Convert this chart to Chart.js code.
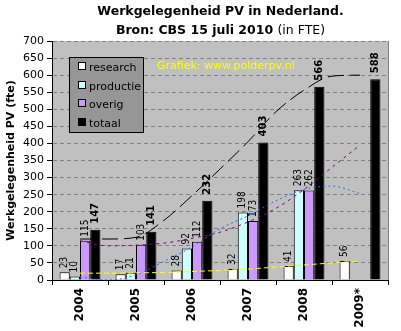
<!DOCTYPE html>
<html lang="nl">
  <head>
    <meta charset="UTF-8" />
    <script src="https://cdn.jsdelivr.net/npm/chart.js@4.4.0/dist/chart.umd.min.js"></script>
    <title>Werkgelegenheid PV in Nederland</title>
    <style>
      body {
        margin: 0;
        background: #fff;
      }
      .wrap {
        position: relative;
        width: 401px;
        height: 331px;
        font-family: "DejaVu Sans", Verdana, sans-serif;
      }
      #trendChart {
        position: absolute;
        left: 0;
        top: 0;
      }
      .title {
        position: absolute;
        left: 20px;
        width: 401px;
        text-align: center;
        font-size: 12.5px;
        font-weight: bold;
        color: #000;
        line-height: 14px;
      }
      .title span {
        font-weight: normal;
      }
      .legend {
        position: absolute;
        left: 69px;
        top: 57px;
        width: 73px;
        height: 74px;
        background: #969696;
        border: 1px solid #000;
        font-size: 11px;
      }
      .legend div {
        position: absolute;
        left: 8px;
        height: 12px;
        line-height: 12px;
      }
      .legend i {
        display: inline-block;
        width: 6px;
        height: 6px;
        border: 1px solid #000;
        margin-right: 3px;
        vertical-align: 1px;
      }
      .mark {
        position: absolute;
        left: 157px;
        top: 59px;
        color: #ffff00;
        font-size: 11px;
      }
    </style>
  </head>
  <body>
    <div class="wrap">
      <canvas id="myChart" width="401" height="331"></canvas>
      <canvas id="trendChart" width="401" height="331"></canvas>
      <div class="title" style="top: 4px">Werkgelegenheid PV in Nederland.</div>
      <div class="title" style="top: 23px">Bron: CBS 15 juli 2010 <span>(in FTE)</span></div>
      <div class="mark">Grafiek: www.polderpv.nl</div>
      <div class="legend" id="legend"></div>
    </div>
    <script>
      const years = ["2004", "2005", "2006", "2007", "2008", "2009*"];
      const research = [23, 17, 28, 32, 41, 56];
      const productie = [10, 21, 92, 198, 263, null];
      const overig = [115, 103, 112, 173, 262, null];
      const totaal = [147, 141, 232, 403, 566, 588];

      // trendlines, at half-year steps
      const trendYears = [2004, 2004.5, 2005, 2005.5, 2006, 2006.5, 2007, 2007.5, 2008, 2008.5, 2009];
      const researchTrend = [20, 20, 21, 22, 25, 28, 32, 38, 44, 50, 56];
      const productieTrend = [8, 0, 15, 55, 97, 150, 188, 232, 265, 275, 253];
      const overigTrend = [115, 100, 102, 108, 122, 140, 170, 210, 265, 330, 395];
      const totaalTrend = [120, 120, 125, 175, 247, 325, 405, 493, 556, 597, 600];

      const yTicks = { min: 0, max: 700, step: 50 };

      const seriesNames = ["research", "productie", "overig", "totaal"];
      const seriesColors = ["#ffffff", "#ccffff", "#cc99ff", "#000000"];

      const legend = document.getElementById("legend");
      seriesNames.forEach(function (name, i) {
        const row = document.createElement("div");
        row.style.top = 4 + i * 18.5 + "px";
        row.innerHTML = '<i style="background:' + seriesColors[i] + '"></i>' + name;
        legend.appendChild(row);
      });

      function bar(label, data, color) {
        return {
          label: label,
          data: data,
          backgroundColor: color,
          borderColor: "#000",
          borderWidth: 1,
          categoryPercentage: 0.73,
          barPercentage: 1,
        };
      }

      function trend(data, color, dash) {
        return {
          data: data.map(function (v, i) {
            return { x: trendYears[i], y: v };
          }),
          borderColor: color,
          borderWidth: 1,
          borderDash: dash,
          pointRadius: 0,
          cubicInterpolationMode: "monotone",
          fill: false,
        };
      }

      const plotBack = {
        id: "plotBack",
        beforeDraw(chart) {
          const a = chart.chartArea;
          const ctx = chart.ctx;
          ctx.save();
          ctx.fillStyle = "#c0c0c0";
          ctx.fillRect(a.left, a.top, a.right - a.left, a.bottom - a.top);
          ctx.strokeStyle = "#808080";
          ctx.lineWidth = 1;
          ctx.beginPath();
          ctx.moveTo(a.right + 0.5, a.top);
          ctx.lineTo(a.right + 0.5, a.bottom);
          ctx.stroke();
          ctx.restore();
        },
      };

      // value labels above the bars, rotated like the x labels
      const barLabels = {
        id: "barLabels",
        afterDatasetsDraw(chart) {
          const ctx = chart.ctx;
          ctx.save();
          ctx.fillStyle = "#000";
          chart.data.datasets.forEach(function (ds, d) {
            const meta = chart.getDatasetMeta(d);
            const big = ds.label === "totaal";
            ctx.font = big
              ? "bold 10px 'DejaVu Sans'"
              : "10px 'Liberation Sans Narrow', 'DejaVu Sans Condensed', sans-serif";
            meta.data.forEach(function (el, i) {
              const v = ds.data[i];
              if (v === null) return;
              ctx.save();
              ctx.translate(el.x, el.y - (big ? 6 : 4));
              ctx.rotate(-Math.PI / 2);
              ctx.textAlign = "left";
              ctx.textBaseline = "middle";
              ctx.fillText(String(v), 0, 0);
              ctx.restore();
            });
          });
          ctx.restore();
        },
      };

      const padding = { top: 41, right: 13, left: 0, bottom: 0 };

      new Chart(document.getElementById("myChart").getContext("2d"), {
        type: "bar",
        data: {
          labels: years,
          datasets: [
            bar("research", research, seriesColors[0]),
            bar("productie", productie, seriesColors[1]),
            bar("overig", overig, seriesColors[2]),
            bar("totaal", totaal, seriesColors[3]),
          ],
        },
        options: {
          responsive: false,
          animation: false,
          layout: { padding: padding },
          plugins: {
            legend: { display: false },
            tooltip: { enabled: false },
          },
          scales: {
            x: {
              offset: true,
              grid: {
                offset: true,
                drawOnChartArea: false,
                drawTicks: true,
                tickLength: 5,
                tickColor: "#000",
              },
              border: { color: "#000", width: 1 },
              ticks: {
                minRotation: 90,
                maxRotation: 90,
                padding: 3,
                color: "#000",
                font: { family: "DejaVu Sans", size: 12, weight: "bold" },
              },
              afterFit(s) {
                s.height = 51;
              },
            },
            y: {
              min: yTicks.min,
              max: yTicks.max,
              ticks: {
                stepSize: yTicks.step,
                color: "#000",
                padding: 3,
                font: { family: "DejaVu Sans", size: 11 },
              },
              grid: {
                color: "#808080",
                tickColor: "#000",
                tickLength: 5,
              },
              border: { color: "#000", width: 1, dash: [4, 3] },
              title: {
                display: true,
                text: "Werkgelegenheid PV (fte)",
                color: "#000",
                padding: { top: 5, bottom: 0 },
                font: { family: "DejaVu Sans", size: 11, weight: "bold" },
              },
              afterFit(s) {
                s.width = 52;
              },
            },
          },
        },
        plugins: [plotBack, barLabels],
      });

      // trendlines on a transparent chart laid exactly over the bars
      new Chart(document.getElementById("trendChart").getContext("2d"), {
        type: "line",
        data: {
          datasets: [
            trend(totaalTrend, "#000000", [16, 6]),
            trend(overigTrend, "#800080", [3, 4]),
            trend(productieTrend, "#3366ff", [2, 3]),
            trend(researchTrend, "#ffff00", [5, 3]),
          ],
        },
        options: {
          responsive: false,
          animation: false,
          layout: { padding: padding },
          plugins: {
            legend: { display: false },
            tooltip: { enabled: false },
          },
          scales: {
            x: {
              type: "linear",
              min: 2003.5,
              max: 2009.5,
              ticks: { display: false },
              grid: { display: false },
              border: { display: false },
              afterFit(s) {
                s.height = 51;
              },
            },
            y: {
              min: yTicks.min,
              max: yTicks.max,
              ticks: { display: false },
              grid: { display: false },
              border: { display: false },
              afterFit(s) {
                s.width = 52;
              },
            },
          },
        },
      });
    </script>
  </body>
</html>
